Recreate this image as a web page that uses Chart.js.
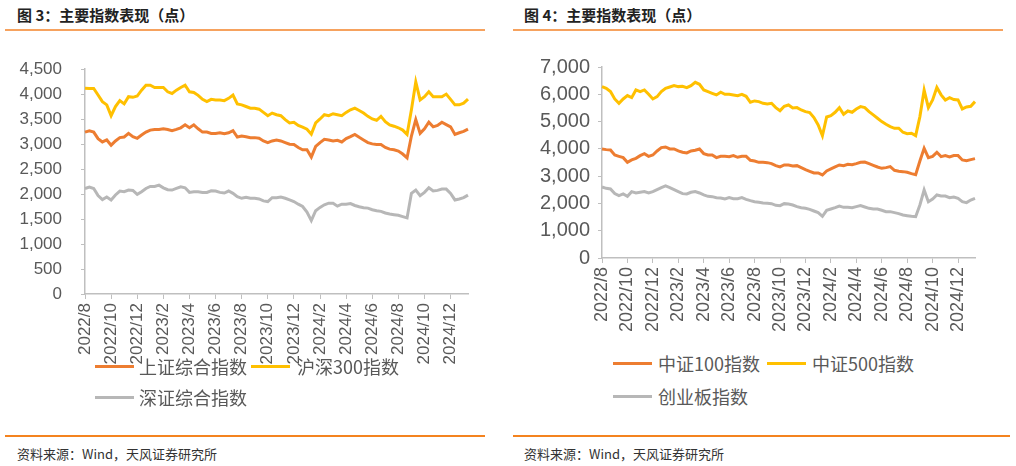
<!DOCTYPE html>
<html>
<head>
<meta charset="utf-8">
<script src="https://cdn.jsdelivr.net/npm/chart.js@4.4.1/dist/chart.umd.min.js"></script>
<style>
  body { margin: 0; width: 1016px; height: 466px; background: #fff; position: relative; overflow: hidden; font-family: "Noto Sans CJK SC", sans-serif; }
  .title { position: absolute; top: 4px; font-size: 15px; font-weight: bold; color: #222; white-space: nowrap; }
  .rule-top { position: absolute; top: 29px; height: 2px; background: #F6A25E; }
  .rule-bottom { position: absolute; top: 435px; height: 1.5px; background: #F4831F; }
  .source { position: absolute; top: 444px; font-size: 13px; color: #333; white-space: nowrap; }
  canvas { position: absolute; }
  .lg-line { position: absolute; height: 3px; width: 39px; }
  .lg-text { position: absolute; font-size: 18px; color: #595959; line-height: 20px; white-space: nowrap; }
</style>
</head>
<body>
<div class="title" style="left:17px">图 3：主要指数表现（点）</div>
<div class="rule-top" style="left:5px;width:480px"></div>
<canvas id="chart3" width="500" height="345" style="left:0;top:40px"></canvas>
<div class="lg-line" style="left:95px;top:365px;background:#ED7D31"></div>
<div class="lg-text" style="left:139px;top:356px">上证综合指数</div>
<div class="lg-line" style="left:251px;top:365px;background:#FFC000"></div>
<div class="lg-text" style="left:297px;top:356px">沪深300指数</div>
<div class="lg-line" style="left:95px;top:396px;background:#B7B7B7"></div>
<div class="lg-text" style="left:139px;top:387px">深证综合指数</div>
<div class="rule-bottom" style="left:5px;width:480px"></div>
<div class="source" style="left:17px">资料来源：Wind，天风证券研究所</div>

<div class="title" style="left:524px">图 4：主要指数表现（点）</div>
<div class="rule-top" style="left:513px;width:490px"></div>
<canvas id="chart4" width="508" height="300" style="left:508px;top:40px"></canvas>
<div class="lg-line" style="left:613px;top:362px;background:#ED7D31"></div>
<div class="lg-text" style="left:658px;top:353px">中证100指数</div>
<div class="lg-line" style="left:767px;top:362px;background:#FFC000"></div>
<div class="lg-text" style="left:812px;top:353px">中证500指数</div>
<div class="lg-line" style="left:613px;top:395px;background:#B7B7B7"></div>
<div class="lg-text" style="left:658px;top:386px">创业板指数</div>
<div class="rule-bottom" style="left:513px;width:497px"></div>
<div class="source" style="left:524px">资料来源：Wind，天风证券研究所</div>

<script>
const tickLabels = ['2022/8', '2022/10', '2022/12', '2023/2', '2023/4', '2023/6', '2023/8', '2023/10',
  '2023/12', '2024/2', '2024/4', '2024/6', '2024/8', '2024/10', '2024/12'];

// 图3
const shComp = [3241, 3268, 3241, 3110, 3044, 3084, 2979, 3064, 3130, 3143, 3215, 3149, 3117, 3182, 3241,
  3281, 3294, 3294, 3307, 3294, 3268, 3294, 3327, 3386, 3327, 3386, 3307, 3241, 3241, 3215, 3215, 3228,
  3209, 3228, 3268, 3143, 3163, 3149, 3130, 3130, 3117, 3064, 3031, 3064, 3084,
  3064, 3031, 2999, 2992, 2933, 2887, 2887, 2740, 2953, 3031, 3097, 3084, 3064, 3077, 3044, 3110, 3149,
  3195, 3136, 3084, 3031, 3005, 2992, 2992, 2933, 2900, 2887, 2861, 2802, 2725, 3163, 3491, 3215, 3307,
  3438, 3346, 3373, 3438, 3392, 3346, 3195, 3228, 3255, 3300];
const hs300 = [4120, 4114, 4114, 3983, 3851, 3786, 3570, 3753, 3871, 3806, 3950, 3937, 3963, 4081, 4179,
  4179, 4133, 4133, 4133, 4048, 4015, 4081, 4133, 4179, 4048, 4035, 3976, 3897, 3851, 3897, 3884, 3884,
  3871, 3917, 3983, 3806, 3786, 3753, 3720, 3720, 3700, 3635, 3569, 3622, 3589,
  3569, 3491, 3425, 3438, 3373, 3340, 3300, 3200, 3425, 3504, 3589, 3569, 3609, 3589, 3569, 3635, 3687,
  3720, 3674, 3622, 3556, 3504, 3477, 3556, 3451, 3386, 3359, 3327, 3281, 3195, 3687, 4245, 3884, 3950,
  4048, 3950, 3950, 3950, 4002, 3897, 3786, 3786, 3819, 3900];
const szComp = [2113, 2139, 2113, 1969, 1890, 1942, 1883, 1982, 2061, 2047, 2080, 2074, 1995, 2047, 2113,
  2152, 2152, 2179, 2126, 2087, 2080, 2113, 2146, 2126, 2034, 2047, 2047, 2034, 2034, 2067, 2061, 2034,
  2021, 2061, 2015, 1949, 1916, 1936, 1916, 1916, 1903, 1864, 1850, 1929, 1929,
  1942, 1916, 1883, 1850, 1798, 1752, 1641, 1470, 1667, 1733, 1785, 1818, 1818, 1759, 1798, 1798, 1811,
  1772, 1746, 1726, 1719, 1687, 1667, 1654, 1621, 1601, 1588, 1575, 1549, 1523, 2015, 2080, 1969, 2034,
  2126, 2061, 2074, 2100, 2100, 2015, 1883, 1903, 1929, 1980];

// 图4
const csi100 = [3996, 3972, 3960, 3776, 3727, 3678, 3507, 3593, 3654, 3752, 3825, 3727, 3776, 3923, 4045,
  4069, 3996, 3996, 3923, 3874, 3849, 3923, 3947, 3996, 3825, 3776, 3776, 3678, 3727, 3727, 3715, 3752,
  3691, 3727, 3727, 3581, 3556, 3507, 3507, 3495, 3458, 3385, 3336, 3410, 3410,
  3373, 3385, 3312, 3238, 3177, 3116, 3116, 3043, 3190, 3263, 3336, 3410, 3385, 3434, 3422, 3458, 3507,
  3519, 3458, 3397, 3336, 3287, 3312, 3348, 3214, 3177, 3165, 3141, 3092, 3055, 3556, 4021, 3678, 3727,
  3874, 3715, 3752, 3703, 3752, 3752, 3593, 3568, 3605, 3642];
const csi500 = [6281, 6220, 6098, 5829, 5670, 5829, 5951, 5878, 6159, 6098, 6159, 6000, 5829, 5915, 6098,
  6220, 6269, 6318, 6281, 6294, 6245, 6318, 6440, 6367, 6159, 6098, 6037, 5976, 6074, 6000, 6000, 5976,
  5951, 6000, 5927, 5707, 5756, 5731, 5670, 5646, 5670, 5511, 5400, 5560, 5609,
  5499, 5511, 5426, 5365, 5328, 5145, 4876, 4480, 5169, 5218, 5340, 5511, 5267, 5389, 5340, 5462, 5548,
  5511, 5365, 5243, 5120, 4998, 4900, 4815, 4754, 4754, 4607, 4558, 4571, 4485, 5182, 6150, 5511, 5792,
  6250, 5980, 5792, 5878, 5805, 5792, 5462, 5536, 5560, 5731];
const chinext = [2603, 2554, 2530, 2359, 2285, 2347, 2261, 2432, 2383, 2408, 2432, 2383, 2432, 2505, 2579,
  2640, 2579, 2505, 2432, 2359, 2347, 2408, 2432, 2383, 2310, 2261, 2249, 2212, 2200, 2163, 2212, 2175,
  2175, 2212, 2151, 2102, 2065, 2041, 2016, 2004, 1992, 1931, 1919, 1992, 1980,
  1943, 1882, 1845, 1821, 1784, 1723, 1662, 1528, 1748, 1796, 1845, 1906, 1857, 1857, 1845, 1882, 1919,
  1870, 1821, 1796, 1796, 1748, 1699, 1699, 1662, 1625, 1577, 1552, 1528, 1515, 1943, 2493, 2065, 2163,
  2310, 2273, 2273, 2212, 2236, 2187, 2065, 2029, 2126, 2187];

const colors = ['#ED7D31', '#FFC000', '#B7B7B7'];
const axisColor = '#BFBFBF';

Chart.defaults.font.family = '"Liberation Sans", Arial, sans-serif';
Chart.defaults.color = '#595959';
Chart.defaults.animation = false;

const lineChart = (id, series, opt) => {
  const labels = series[0].map((_, i) => i);
  return new Chart(document.getElementById(id), {
    type: 'line',
    data: {
      labels,
      datasets: series.map((d, i) => ({
        data: d,
        borderColor: colors[i],
        borderWidth: 3,
        pointRadius: 0,
        tension: 0
      }))
    },
    options: {
      responsive: false,
      events: [],
      layout: { padding: opt.padding },
      plugins: { legend: { display: false }, tooltip: { enabled: false } },
      scales: {
        x: {
          type: 'category',
          afterBuildTicks: s => { s.ticks = s.ticks.filter(t => t.value % 6 === 0); },
          afterFit: s => { s.height = opt.xHeight; },
          grid: { drawOnChartArea: false, tickLength: 5, color: axisColor },
          border: { color: axisColor, width: 1.5 },
          ticks: {
            autoSkip: false,
            maxRotation: 90,
            minRotation: 90,
            padding: 4,
            font: { size: opt.xFont },
            callback: v => tickLabels[v / 6]
          }
        },
        y: {
          min: 0,
          max: opt.max,
          afterFit: s => { s.width = opt.yWidth; },
          grid: { drawOnChartArea: false, tickLength: 4, color: axisColor },
          border: { color: axisColor, width: 1.5 },
          ticks: {
            stepSize: opt.step,
            padding: opt.yPad,
            font: { size: opt.yFont },
            callback: v => v.toLocaleString('en-US')
          }
        }
      }
    }
  });
};

lineChart('chart3', [shComp, hs300, szComp], {
  padding: { top: 25, right: 32, left: 0, bottom: 0 },
  xHeight: 91, yWidth: 85, yPad: 19, max: 4500, step: 500, xFont: 17, yFont: 17
});

lineChart('chart4', [csi100, csi500, chinext], {
  padding: { top: 27, right: 41, left: 0, bottom: 0 },
  xHeight: 82, yWidth: 94, yPad: 8, max: 7000, step: 1000, xFont: 18, yFont: 20
});
</script>
</body>
</html>
